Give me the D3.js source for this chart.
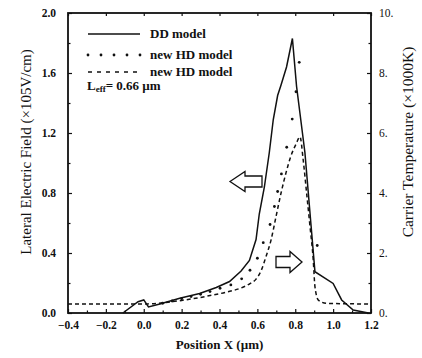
<!DOCTYPE html>
<html><head><meta charset="utf-8">
<script src="https://cdn.jsdelivr.net/npm/d3@7"></script>
<style>body{margin:0;background:#fff}svg{display:block}text{font-family:"Liberation Serif","Times New Roman",serif;fill:#111}</style>
</head><body><svg id="c" width="422" height="358"></svg>
<script>
// DD model: lateral electric field (x10^5 V/cm)
const ddX = [-0.11, -0.03, 0.0, 0.025, 0.085, 0.19, 0.295, 0.383, 0.453, 0.514, 0.558, 0.593, 0.61, 0.637, 0.663, 0.684, 0.707, 0.725, 0.754, 0.785, 0.807, 0.851, 0.887, 0.904, 1.0, 1.045, 1.106, 1.186];
const ddY = [0, 0.075, 0.087, 0.04, 0.06, 0.098, 0.13, 0.17, 0.21, 0.28, 0.35, 0.49, 0.66, 0.84, 1.07, 1.29, 1.45, 1.52, 1.64, 1.83, 1.51, 1.07, 0.53, 0.275, 0.197, 0.087, 0.02, 0];
// new HD model: lateral electric field (dots)
const hdX = [0.10, 0.15, 0.20, 0.25, 0.30, 0.35, 0.403, 0.46, 0.517, 0.561, 0.600, 0.631, 0.667, 0.69, 0.707, 0.727, 0.755, 0.784, 0.804, 0.821, 0.916];
const hdY = [0.065, 0.08, 0.095, 0.11, 0.125, 0.143, 0.165, 0.187, 0.228, 0.285, 0.365, 0.469, 0.59, 0.71, 0.81, 0.927, 1.105, 1.293, 1.475, 1.671, 0.45];
// new HD model: carrier temperature (x1000 K), dashed, right axis
const tX = [-0.4, 0.0, 0.1, 0.2, 0.3, 0.35, 0.44, 0.508, 0.561, 0.593, 0.619, 0.645, 0.672, 0.698, 0.725, 0.751, 0.777, 0.804, 0.825, 0.842, 0.86, 0.878, 0.895, 0.904, 0.922, 0.966, 1.2];
const tY = [0.3, 0.3, 0.34, 0.42, 0.52, 0.58, 0.7, 0.82, 0.98, 1.13, 1.4, 1.87, 2.43, 3.2, 4.0, 4.67, 5.23, 5.63, 5.87, 5.1, 4.0, 2.88, 1.77, 0.88, 0.43, 0.32, 0.3];

const xTicks = [-0.4, -0.2, 0.0, 0.2, 0.4, 0.6, 0.8, 1.0, 1.2];
const yTicks = [0.0, 0.4, 0.8, 1.2, 1.6, 2.0];
const y2Ticks = [0, 2, 4, 6, 8, 10];
const y2Labels = ["0.", "2.", "4.", "6.", "8.", "10."];
const legendLabels = ["DD model", "new HD model", "new HD model"];

const svg = d3.select("#c");
const L = 68, R = 371, T = 13, B = 313;
const x = d3.scaleLinear().domain([-0.4, 1.2]).range([L, R]);
const y = d3.scaleLinear().domain([0, 2.0]).range([B, T]);
const y2 = d3.scaleLinear().domain([0, 10]).range([B, T]);

// axes
const gB = svg.append("g").attr("transform", `translate(0,${B})`)
  .call(d3.axisBottom(x).tickValues(xTicks).tickFormat(d3.format(".1f")).tickSize(-4).tickPadding(8));
const gBm = svg.append("g").attr("transform", `translate(0,${B})`)
  .call(d3.axisBottom(x).tickValues(d3.range(-0.3, 1.2, 0.2)).tickFormat("").tickSize(-2.5));
const gT = svg.append("g").attr("transform", `translate(0,${T})`)
  .call(d3.axisTop(x).tickValues(xTicks).tickFormat("").tickSize(-3));
const gL = svg.append("g").attr("transform", `translate(${L},0)`)
  .call(d3.axisLeft(y).tickValues(yTicks).tickFormat(d3.format(".1f")).tickSize(-4).tickPadding(12));
const gLm = svg.append("g").attr("transform", `translate(${L},0)`)
  .call(d3.axisLeft(y).tickValues(d3.range(0.2, 2.0, 0.4)).tickFormat("").tickSize(-2.5));
const gR = svg.append("g").attr("transform", `translate(${R},0)`)
  .call(d3.axisRight(y2).tickValues(y2Ticks).tickFormat((d, i) => y2Labels[i]).tickSize(-4).tickPadding(8));
const gRm = svg.append("g").attr("transform", `translate(${R},0)`)
  .call(d3.axisRight(y2).tickValues(d3.range(1, 10, 2)).tickFormat("").tickSize(-2.5));

[gB, gBm, gT, gL, gLm, gR, gRm].forEach(g => {
  g.select(".domain").remove();
  g.selectAll("line").attr("stroke", "#111").attr("stroke-width", 1.2);
});
[gB, gL].forEach(g => g.selectAll("text").attr("font-size", 11.5).attr("font-weight", "bold").attr("fill", "#111"));
gR.selectAll("text").attr("font-size", 11.5).attr("fill", "#111");

// frame
svg.append("rect").attr("x", L).attr("y", T).attr("width", R - L).attr("height", B - T)
  .attr("fill", "none").attr("stroke", "#111").attr("stroke-width", 1.8);

// axis titles
svg.append("text").attr("x", x(0.4)).attr("y", 349).attr("text-anchor", "middle")
  .attr("font-size", 13).attr("font-weight", "bold").text("Position X (µm)");
svg.append("text").attr("transform", "translate(31,152) rotate(-90)").attr("text-anchor", "middle")
  .attr("font-size", 15).text("Lateral Electric Field (×105V/cm)");
svg.append("text").attr("transform", "translate(413,142) rotate(-90)").attr("text-anchor", "middle")
  .attr("font-size", 15.5).text("Carrier Temperature (×1000K)");

// curves
const dd = ddX.map((v, i) => [v, ddY[i]]);
const hd = hdX.map((v, i) => [v, hdY[i]]);
const tt = tX.map((v, i) => [v, tY[i]]);

svg.append("path").datum(dd).attr("fill", "none").attr("stroke", "#111").attr("stroke-width", 1.5)
  .attr("d", d3.line().x(d => x(d[0])).y(d => y(d[1])));
svg.append("path").datum(tt).attr("fill", "none").attr("stroke", "#111").attr("stroke-width", 1.5)
  .attr("stroke-dasharray", "4,3")
  .attr("d", d3.line().curve(d3.curveMonotoneX).x(d => x(d[0])).y(d => y2(d[1])));
svg.append("g").selectAll("circle").data(hd).join("circle")
  .attr("cx", d => x(d[0])).attr("cy", d => y(d[1])).attr("r", 1.4).attr("fill", "#111");

// arrows
function arrow(cx, cy, dir, len, headLen, shaftH, headH) {
  const s = dir;
  const tip = cx + s * len / 2, base = cx - s * len / 2, neck = tip - s * headLen;
  const pts = [[tip, cy], [neck, cy - headH / 2], [neck, cy - shaftH / 2], [base, cy - shaftH / 2],
    [base, cy + shaftH / 2], [neck, cy + shaftH / 2], [neck, cy + headH / 2]];
  svg.append("path").attr("d", d3.line()(pts) + "Z").attr("fill", "#fff").attr("stroke", "#111").attr("stroke-width", 1.3);
}
arrow(246, 181.5, -1, 32, 15, 11, 20);
arrow(289, 262, 1, 26, 12, 11, 21);

// legend
const lg = svg.append("g");
lg.append("line").attr("x1", 88).attr("x2", 140).attr("y1", 34).attr("y2", 34).attr("stroke", "#111").attr("stroke-width", 1.5);
lg.selectAll("circle").data(d3.range(5)).join("circle").attr("cx", d => 88 + d * 13).attr("cy", 55).attr("r", 1.4).attr("fill", "#111");
lg.append("line").attr("x1", 88).attr("x2", 140).attr("y1", 72).attr("y2", 72).attr("stroke", "#111").attr("stroke-width", 1.5).attr("stroke-dasharray", "4,5");
[38, 59, 76].forEach((yy, i) => lg.append("text").attr("x", 150).attr("y", yy).attr("font-size", 13).attr("font-weight", "bold").text(legendLabels[i]));
const le = lg.append("text").attr("x", 87).attr("y", 90).attr("font-size", 13).attr("font-weight", "bold");
le.append("tspan").text("L");
le.append("tspan").attr("font-size", 9).attr("dy", 2).text("eff");
le.append("tspan").attr("dy", -2).text("= 0.66 µm");
</script></body></html>
